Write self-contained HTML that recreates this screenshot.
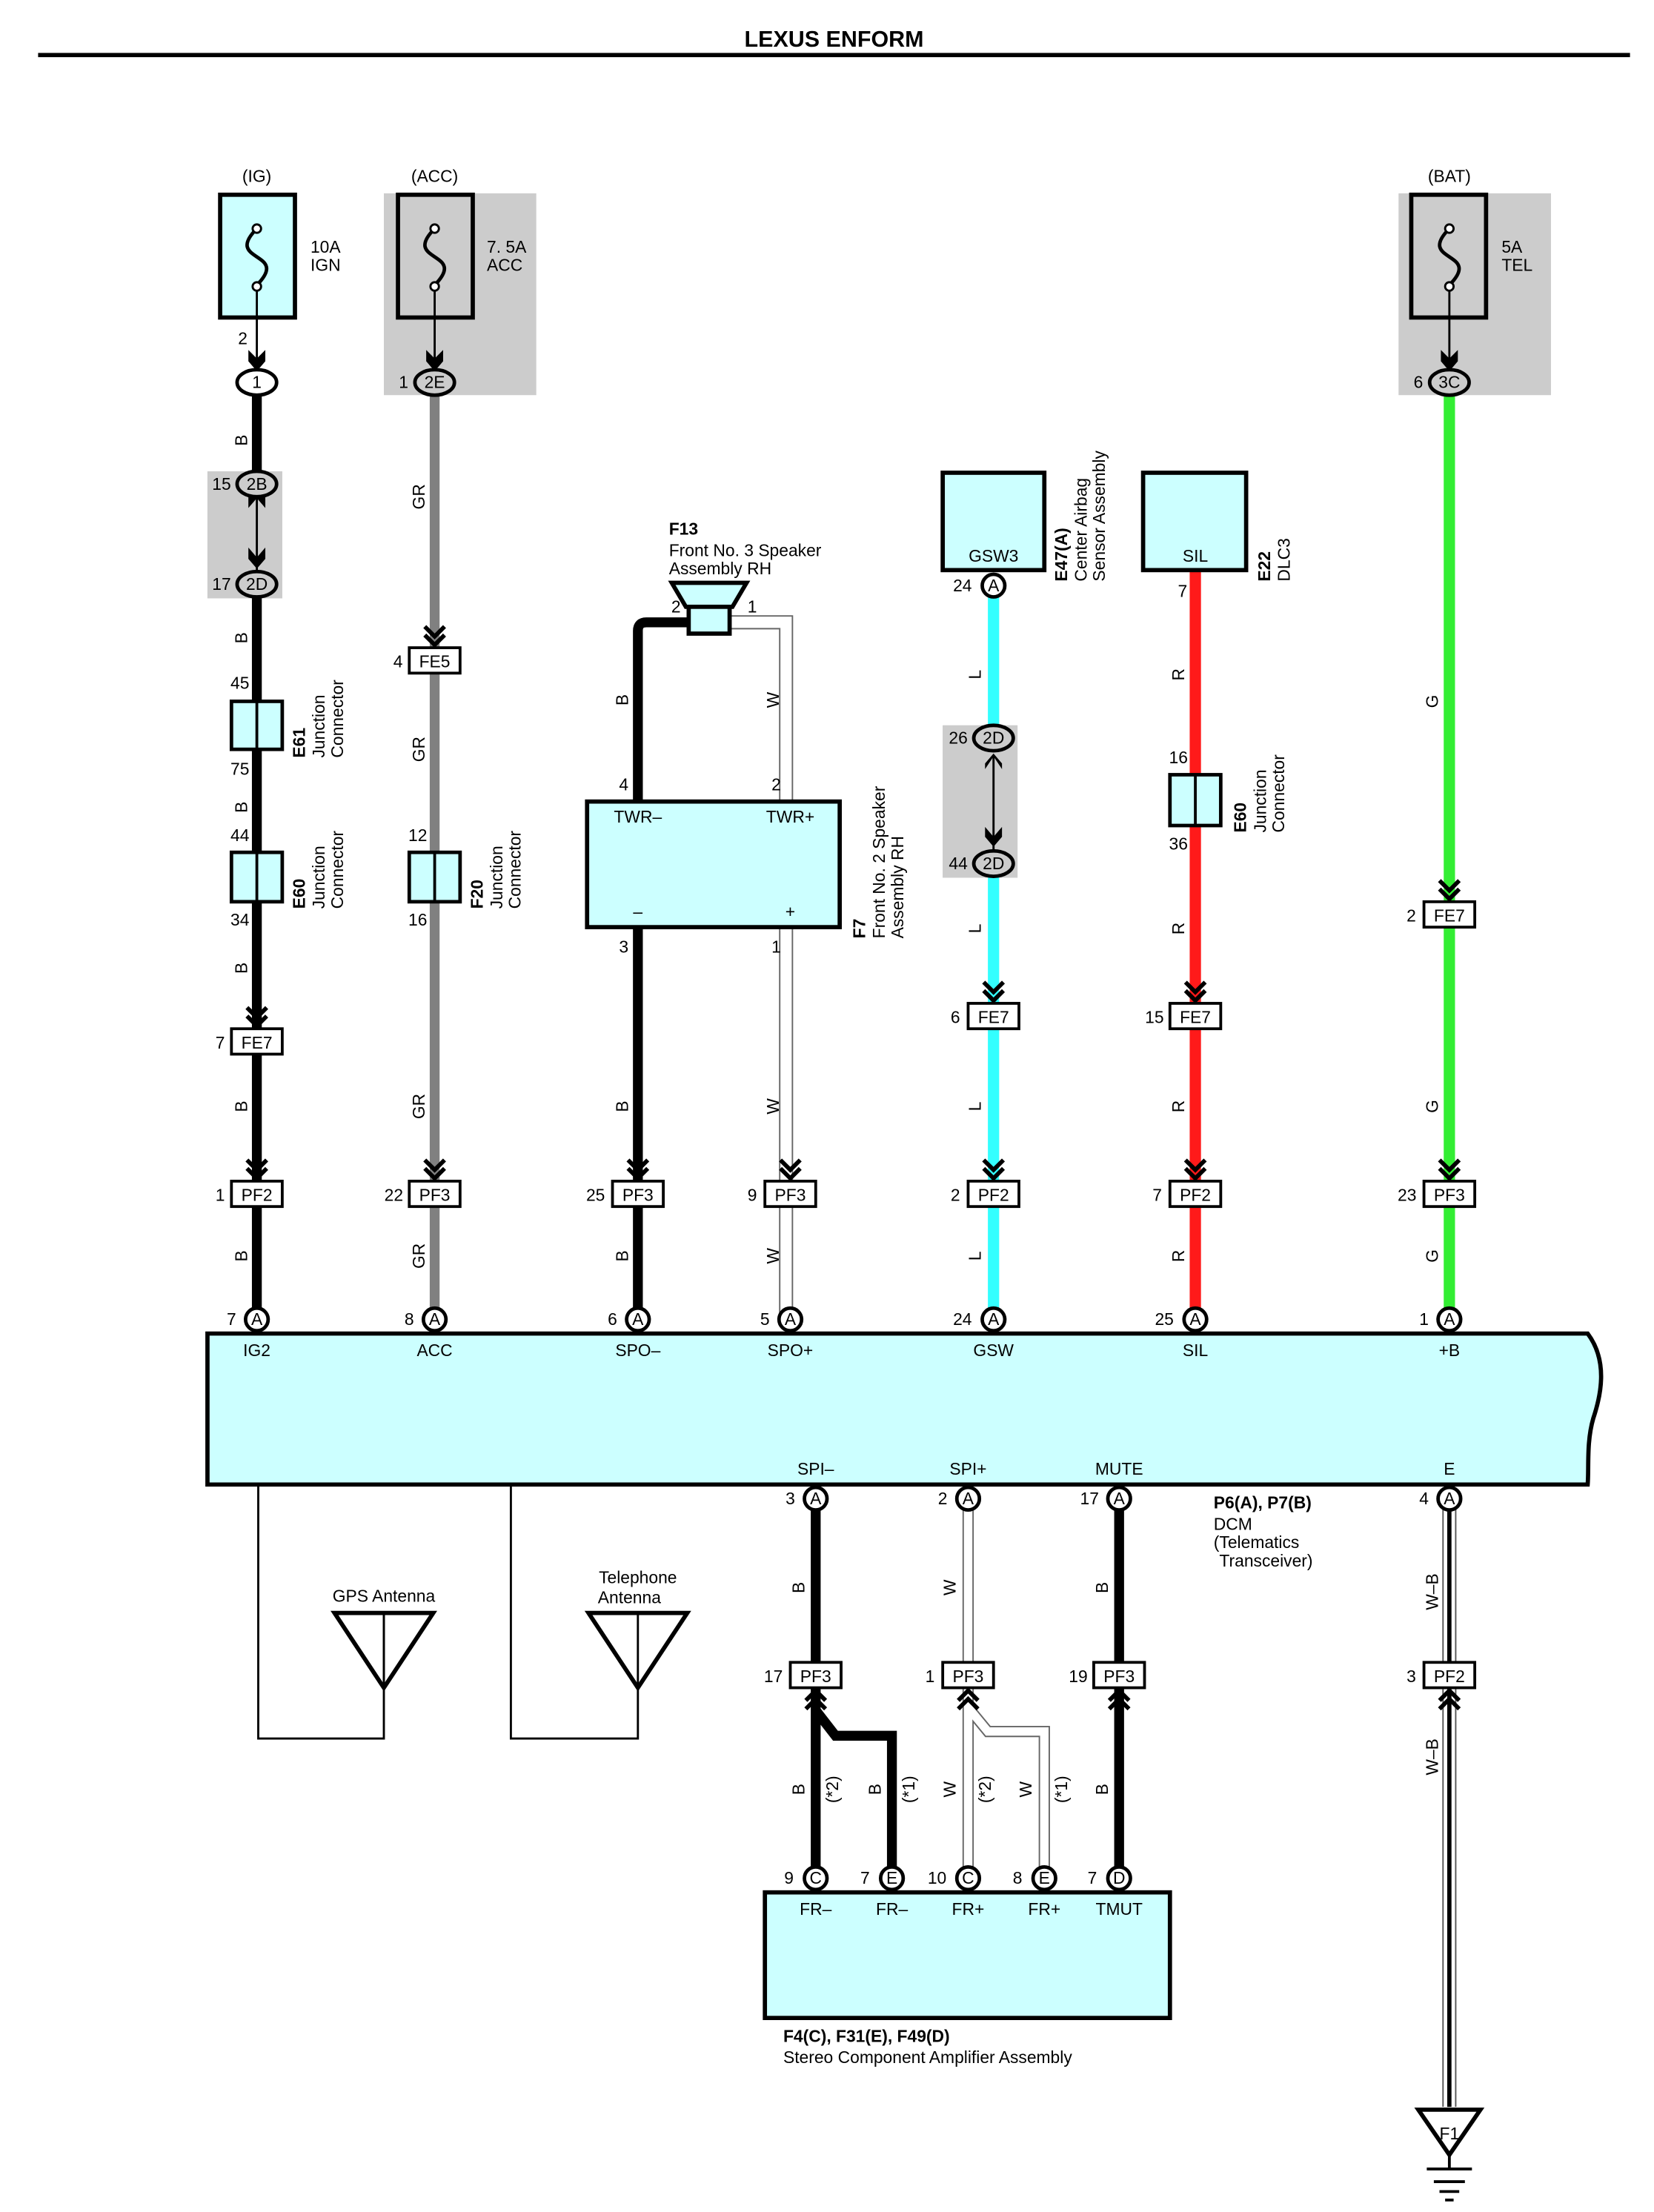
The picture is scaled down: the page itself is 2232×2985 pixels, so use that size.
<!DOCTYPE html>
<html><head><meta charset="utf-8"><style>
html,body{margin:0;padding:0;background:#fff}
svg{display:block}
text{font-family:"Liberation Sans",sans-serif;font-size:12px;fill:#000}
.b{font-weight:bold}
.c{text-anchor:middle}
.e{text-anchor:end}
</style></head><body>
<svg width="2232" height="2985" viewBox="0 0 1172 1567.5" preserveAspectRatio="none" xmlns="http://www.w3.org/2000/svg">
<defs>
<g id="chd"><polyline points="-7,-24 0,-17 7,-24" fill="none" stroke="#000" stroke-width="3"/><polyline points="-7,-18 0,-11 7,-18" fill="none" stroke="#000" stroke-width="3"/></g>
<g id="chu"><polyline points="-7,24 0,17 7,24" fill="none" stroke="#000" stroke-width="3"/><polyline points="-7,18 0,11 7,18" fill="none" stroke="#000" stroke-width="3"/></g>
<path id="fuse" d="M0,-20 C-12,-8 -6,-4 0,0 C6,4 12,8 0,20" fill="none" stroke="#000" stroke-width="2.5"/>
</defs>

<text x="591" y="33" class="b c" style="font-size:16px">LEXUS ENFORM</text>
<rect x="27" y="37.5" width="1128" height="3" fill="#000"/>

<rect x="272" y="137" width="108" height="143" fill="#ccc"/>
<rect x="991" y="137" width="108" height="143" fill="#ccc"/>
<rect x="147" y="334" width="53" height="90" fill="#ccc"/>
<rect x="668" y="514" width="53" height="108" fill="#ccc"/>

<text x="182" y="129" class="c">(IG)</text>
<rect x="156" y="138" width="53" height="87" fill="#ccffff" stroke="#000" stroke-width="3"/>
<use href="#fuse" x="182" y="182"/><circle cx="182" cy="162" r="3" fill="#fff" stroke="#000" stroke-width="1.5"/><circle cx="182" cy="203" r="3" fill="#fff" stroke="#000" stroke-width="1.5"/>
<text x="220" y="179">10A</text><text x="220" y="192">IGN</text>
<line x1="182" y1="206" x2="182" y2="258" stroke="#000" stroke-width="1.5"/>
<polygon points="176,248 182,254 188,248 188,256 182,263 176,256" fill="#000"/>
<text x="172" y="244" class="c">2</text>
<ellipse cx="182" cy="271" rx="14" ry="9" fill="#fff" stroke="#000" stroke-width="2.5"/><text x="182" y="275" class="c">1</text>

<text x="308" y="129" class="c">(ACC)</text>
<rect x="282" y="138" width="53" height="87" fill="#ccc" stroke="#000" stroke-width="3"/>
<use href="#fuse" x="308" y="182"/><circle cx="308" cy="162" r="3" fill="#fff" stroke="#000" stroke-width="1.5"/><circle cx="308" cy="203" r="3" fill="#fff" stroke="#000" stroke-width="1.5"/>
<text x="345" y="179">7. 5A</text><text x="345" y="192">ACC</text>
<line x1="308" y1="206" x2="308" y2="258" stroke="#000" stroke-width="1.5"/>
<polygon points="302,248 308,254 314,248 314,256 308,263 302,256" fill="#000"/>

<text x="1027" y="129" class="c">(BAT)</text>
<rect x="1000" y="138" width="53" height="87" fill="#ccc" stroke="#000" stroke-width="3"/>
<use href="#fuse" x="1027" y="182"/><circle cx="1027" cy="162" r="3" fill="#fff" stroke="#000" stroke-width="1.5"/><circle cx="1027" cy="203" r="3" fill="#fff" stroke="#000" stroke-width="1.5"/>
<text x="1064" y="179">5A</text><text x="1064" y="192">TEL</text>
<line x1="1027" y1="206" x2="1027" y2="258" stroke="#000" stroke-width="1.5"/>
<polygon points="1021,248 1027,254 1033,248 1033,256 1027,263 1021,256" fill="#000"/>

<line x1="182" y1="280" x2="182" y2="935" stroke="#000" stroke-width="7"/>
<line x1="308" y1="280" x2="308" y2="935" stroke="#808080" stroke-width="7"/>
<path d="M452,935 V447 Q452,441 458,441 H490" fill="none" stroke="#000" stroke-width="7"/>
<path d="M517,441 H557 V935" fill="none" stroke="#666" stroke-width="10"/>
<path d="M517,441 H557 V935" fill="none" stroke="#fff" stroke-width="8"/>
<line x1="704" y1="420" x2="704" y2="935" stroke="#33ffff" stroke-width="8"/>
<line x1="847" y1="404" x2="847" y2="935" stroke="#ff1a1a" stroke-width="8"/>
<line x1="1027" y1="280" x2="1027" y2="935" stroke="#33ee33" stroke-width="8"/>

<rect x="147" y="334" width="53" height="90" fill="#ccc"/>
<line x1="182" y1="352" x2="182" y2="405" stroke="#000" stroke-width="1.5"/>
<polygon points="176,352 182,345 188,352 188,360 182,353 176,360" fill="#000"/>
<polygon points="176,396 182,403 188,396 188,388 182,395 176,388" fill="#000"/>
<ellipse cx="182" cy="343" rx="14" ry="9" fill="#ccc" stroke="#000" stroke-width="2.5"/><text x="182" y="347" class="c">2B</text><text x="157" y="347" class="c">15</text>
<ellipse cx="182" cy="414" rx="14" ry="9" fill="#ccc" stroke="#000" stroke-width="2.5"/><text x="182" y="418" class="c">2D</text><text x="157" y="418" class="c">17</text>
<ellipse cx="308" cy="271" rx="14" ry="9" fill="#ccc" stroke="#000" stroke-width="2.5"/><text x="308" y="275" class="c">2E</text><text x="286" y="275" class="c">1</text>
<ellipse cx="1027" cy="271" rx="14" ry="9" fill="#ccc" stroke="#000" stroke-width="2.5"/><text x="1027" y="275" class="c">3C</text><text x="1005" y="275" class="c">6</text>

<rect x="164" y="497" width="36" height="34" fill="#ccffff" stroke="#000" stroke-width="2.5"/><line x1="182" y1="497" x2="182" y2="531" stroke="#000" stroke-width="2"/>
<text x="170" y="488" class="c">45</text><text x="170" y="549" class="c">75</text>
<rect x="164" y="604" width="36" height="35" fill="#ccffff" stroke="#000" stroke-width="2.5"/><line x1="182" y1="604" x2="182" y2="639" stroke="#000" stroke-width="2"/>
<text x="170" y="596" class="c">44</text><text x="170" y="656" class="c">34</text>
<g transform="translate(216,537) rotate(-90)"><text class="b">E61</text></g>
<g transform="translate(230,537) rotate(-90)"><text>Junction</text></g>
<g transform="translate(243,537) rotate(-90)"><text>Connector</text></g>
<g transform="translate(216,644) rotate(-90)"><text class="b">E60</text></g>
<g transform="translate(230,644) rotate(-90)"><text>Junction</text></g>
<g transform="translate(243,644) rotate(-90)"><text>Connector</text></g>

<rect x="290" y="604" width="36" height="35" fill="#ccffff" stroke="#000" stroke-width="2.5"/><line x1="308" y1="604" x2="308" y2="639" stroke="#000" stroke-width="2"/>
<text x="296" y="596" class="c">12</text><text x="296" y="656" class="c">16</text>
<g transform="translate(342,644) rotate(-90)"><text class="b">F20</text></g>
<g transform="translate(356,644) rotate(-90)"><text>Junction</text></g>
<g transform="translate(369,644) rotate(-90)"><text>Connector</text></g>

<text x="474" y="379" class="b">F13</text>
<text x="474" y="394">Front No. 3 Speaker</text>
<text x="474" y="407">Assembly RH</text>
<polygon points="476,413 529,413 519,430 486,430" fill="#ccffff" stroke="#000" stroke-width="3"/>
<rect x="488" y="430" width="29" height="19" fill="#ccffff" stroke="#000" stroke-width="3"/>
<text x="479" y="434" class="c">2</text><text x="533" y="434" class="c">1</text>
<rect x="416" y="568" width="179" height="89" fill="#ccffff" stroke="#000" stroke-width="3"/>
<text x="452" y="583" class="c">TWR–</text><text x="560" y="583" class="c">TWR+</text>
<text x="452" y="650" class="c">–</text><text x="560" y="650" class="c">+</text>
<text x="442" y="560" class="c">4</text><text x="550" y="560" class="c">2</text>
<text x="442" y="675" class="c">3</text><text x="550" y="675" class="c">1</text>
<g transform="translate(613,665) rotate(-90)"><text class="b">F7</text></g>
<g transform="translate(627,665) rotate(-90)"><text>Front No. 2 Speaker</text></g>
<g transform="translate(640,665) rotate(-90)"><text>Assembly RH</text></g>

<rect x="668" y="335" width="72" height="69" fill="#ccffff" stroke="#000" stroke-width="3"/><text x="704" y="398" class="c">GSW3</text>
<circle cx="704" cy="415" r="8" fill="#fff" stroke="#000" stroke-width="2.5"/><text x="704" y="419" class="c">A</text><text x="682" y="419" class="c">24</text>
<g transform="translate(756,412) rotate(-90)"><text class="b">E47(A)</text></g>
<g transform="translate(770,412) rotate(-90)"><text>Center Airbag</text></g>
<g transform="translate(783,412) rotate(-90)"><text>Sensor Assembly</text></g>
<rect x="810" y="335" width="73" height="69" fill="#ccffff" stroke="#000" stroke-width="3"/><text x="847" y="398" class="c">SIL</text>
<text x="838" y="423" class="c">7</text>
<g transform="translate(900,412) rotate(-90)"><text class="b">E22</text></g>
<g transform="translate(914,412) rotate(-90)"><text>DLC3</text></g>

<rect x="668" y="514" width="53" height="108" fill="#ccc"/>
<line x1="704" y1="535" x2="704" y2="602" stroke="#000" stroke-width="1.5"/>
<polygon points="698,545 704,536 710,545 710,541 704,534 698,541" fill="#000"/>
<polygon points="698,593 704,600 710,593 710,586 704,593 698,586" fill="#000"/>
<ellipse cx="704" cy="523" rx="14" ry="9" fill="#ccc" stroke="#000" stroke-width="2.5"/><text x="704" y="527" class="c">2D</text><text x="679" y="527" class="c">26</text>
<ellipse cx="704" cy="612" rx="14" ry="9" fill="#ccc" stroke="#000" stroke-width="2.5"/><text x="704" y="616" class="c">2D</text><text x="679" y="616" class="c">44</text>

<rect x="829" y="549" width="36" height="36" fill="#ccffff" stroke="#000" stroke-width="2.5"/><line x1="847" y1="549" x2="847" y2="585" stroke="#000" stroke-width="2"/>
<text x="835" y="541" class="c">16</text><text x="835" y="602" class="c">36</text>
<g transform="translate(883,590) rotate(-90)"><text class="b">E60</text></g>
<g transform="translate(897,590) rotate(-90)"><text>Junction</text></g>
<g transform="translate(910,590) rotate(-90)"><text>Connector</text></g>

<g>
<use href="#chd" x="308" y="468"/><rect x="290" y="459" width="36" height="18" fill="#fff" stroke="#000" stroke-width="2"/><text x="308" y="473" class="c">FE5</text><text x="282" y="473" class="c">4</text>
<use href="#chd" x="182" y="738"/><rect x="164" y="729" width="36" height="18" fill="#fff" stroke="#000" stroke-width="2"/><text x="182" y="743" class="c">FE7</text><text x="156" y="743" class="c">7</text>
<use href="#chd" x="704" y="720"/><rect x="686" y="711" width="36" height="18" fill="#fff" stroke="#000" stroke-width="2"/><text x="704" y="725" class="c">FE7</text><text x="677" y="725" class="c">6</text>
<use href="#chd" x="847" y="720"/><rect x="829" y="711" width="36" height="18" fill="#fff" stroke="#000" stroke-width="2"/><text x="847" y="725" class="c">FE7</text><text x="818" y="725" class="c">15</text>
<use href="#chd" x="1027" y="648"/><rect x="1009" y="639" width="36" height="18" fill="#fff" stroke="#000" stroke-width="2"/><text x="1027" y="653" class="c">FE7</text><text x="1000" y="653" class="c">2</text>

<use href="#chd" x="182" y="846"/><rect x="164" y="837" width="36" height="18" fill="#fff" stroke="#000" stroke-width="2"/><text x="182" y="851" class="c">PF2</text><text x="156" y="851" class="c">1</text>
<use href="#chd" x="308" y="846"/><rect x="290" y="837" width="36" height="18" fill="#fff" stroke="#000" stroke-width="2"/><text x="308" y="851" class="c">PF3</text><text x="279" y="851" class="c">22</text>
<use href="#chd" x="452" y="846"/><rect x="434" y="837" width="36" height="18" fill="#fff" stroke="#000" stroke-width="2"/><text x="452" y="851" class="c">PF3</text><text x="422" y="851" class="c">25</text>
<use href="#chd" x="560" y="846"/><rect x="542" y="837" width="36" height="18" fill="#fff" stroke="#000" stroke-width="2"/><text x="560" y="851" class="c">PF3</text><text x="533" y="851" class="c">9</text>
<use href="#chd" x="704" y="846"/><rect x="686" y="837" width="36" height="18" fill="#fff" stroke="#000" stroke-width="2"/><text x="704" y="851" class="c">PF2</text><text x="677" y="851" class="c">2</text>
<use href="#chd" x="847" y="846"/><rect x="829" y="837" width="36" height="18" fill="#fff" stroke="#000" stroke-width="2"/><text x="847" y="851" class="c">PF2</text><text x="820" y="851" class="c">7</text>
<use href="#chd" x="1027" y="846"/><rect x="1009" y="837" width="36" height="18" fill="#fff" stroke="#000" stroke-width="2"/><text x="1027" y="851" class="c">PF3</text><text x="997" y="851" class="c">23</text>
</g>

<g>
<g transform="translate(175,312) rotate(-90)"><text class="c">B</text></g>
<g transform="translate(175,452) rotate(-90)"><text class="c">B</text></g>
<g transform="translate(175,572) rotate(-90)"><text class="c">B</text></g>
<g transform="translate(175,686) rotate(-90)"><text class="c">B</text></g>
<g transform="translate(175,784) rotate(-90)"><text class="c">B</text></g>
<g transform="translate(175,890) rotate(-90)"><text class="c">B</text></g>
<g transform="translate(301,352) rotate(-90)"><text class="c">GR</text></g>
<g transform="translate(301,531) rotate(-90)"><text class="c">GR</text></g>
<g transform="translate(301,784) rotate(-90)"><text class="c">GR</text></g>
<g transform="translate(301,890) rotate(-90)"><text class="c">GR</text></g>
<g transform="translate(445,496) rotate(-90)"><text class="c">B</text></g>
<g transform="translate(445,784) rotate(-90)"><text class="c">B</text></g>
<g transform="translate(445,890) rotate(-90)"><text class="c">B</text></g>
<g transform="translate(552,496) rotate(-90)"><text class="c">W</text></g>
<g transform="translate(552,784) rotate(-90)"><text class="c">W</text></g>
<g transform="translate(552,890) rotate(-90)"><text class="c">W</text></g>
<g transform="translate(695,478) rotate(-90)"><text class="c">L</text></g>
<g transform="translate(695,658) rotate(-90)"><text class="c">L</text></g>
<g transform="translate(695,784) rotate(-90)"><text class="c">L</text></g>
<g transform="translate(695,890) rotate(-90)"><text class="c">L</text></g>
<g transform="translate(839,478) rotate(-90)"><text class="c">R</text></g>
<g transform="translate(839,658) rotate(-90)"><text class="c">R</text></g>
<g transform="translate(839,784) rotate(-90)"><text class="c">R</text></g>
<g transform="translate(839,890) rotate(-90)"><text class="c">R</text></g>
<g transform="translate(1019,497) rotate(-90)"><text class="c">G</text></g>
<g transform="translate(1019,784) rotate(-90)"><text class="c">G</text></g>
<g transform="translate(1019,890) rotate(-90)"><text class="c">G</text></g>
</g>

<path d="M147,945 H1125 C1140,965 1134,990 1129,1005 C1124,1022 1126,1040 1125,1052 H147 Z" fill="#ccffff" stroke="#000" stroke-width="3"/>
<g>
<circle cx="182" cy="935" r="8" fill="#fff" stroke="#000" stroke-width="2.5"/><text x="182" y="939" class="c">A</text><text x="164" y="939" class="c">7</text>
<circle cx="308" cy="935" r="8" fill="#fff" stroke="#000" stroke-width="2.5"/><text x="308" y="939" class="c">A</text><text x="290" y="939" class="c">8</text>
<circle cx="452" cy="935" r="8" fill="#fff" stroke="#000" stroke-width="2.5"/><text x="452" y="939" class="c">A</text><text x="434" y="939" class="c">6</text>
<circle cx="560" cy="935" r="8" fill="#fff" stroke="#000" stroke-width="2.5"/><text x="560" y="939" class="c">A</text><text x="542" y="939" class="c">5</text>
<circle cx="704" cy="935" r="8" fill="#fff" stroke="#000" stroke-width="2.5"/><text x="704" y="939" class="c">A</text><text x="682" y="939" class="c">24</text>
<circle cx="847" cy="935" r="8" fill="#fff" stroke="#000" stroke-width="2.5"/><text x="847" y="939" class="c">A</text><text x="825" y="939" class="c">25</text>
<circle cx="1027" cy="935" r="8" fill="#fff" stroke="#000" stroke-width="2.5"/><text x="1027" y="939" class="c">A</text><text x="1009" y="939" class="c">1</text>
</g>
<text x="182" y="961" class="c">IG2</text><text x="308" y="961" class="c">ACC</text><text x="452" y="961" class="c">SPO–</text><text x="560" y="961" class="c">SPO+</text><text x="704" y="961" class="c">GSW</text><text x="847" y="961" class="c">SIL</text><text x="1027" y="961" class="c">+B</text>
<text x="578" y="1045" class="c">SPI–</text><text x="686" y="1045" class="c">SPI+</text><text x="793" y="1045" class="c">MUTE</text><text x="1027" y="1045" class="c">E</text>
<text x="860" y="1069" class="b">P6(A), P7(B)</text>
<text x="860" y="1084">DCM</text><text x="860" y="1097">(Telematics</text><text x="864" y="1110">Transceiver)</text>

<polyline points="183,1052 183,1232 272,1232 272,1143" fill="none" stroke="#000" stroke-width="1.5"/>
<polygon points="237,1143 307,1143 272,1196" fill="none" stroke="#000" stroke-width="3"/>
<line x1="272" y1="1143" x2="272" y2="1196" stroke="#000" stroke-width="1.5"/>
<text x="272" y="1135" class="c">GPS Antenna</text>
<polyline points="362,1052 362,1232 452,1232 452,1143" fill="none" stroke="#000" stroke-width="1.5"/>
<polygon points="417,1143 487,1143 452,1196" fill="none" stroke="#000" stroke-width="3"/>
<text x="452" y="1122" class="c">Telephone</text><text x="446" y="1136" class="c">Antenna</text>

<line x1="578" y1="1062" x2="578" y2="1331" stroke="#000" stroke-width="7"/>
<path d="M578,1212 L592,1230 H632 V1331" fill="none" stroke="#000" stroke-width="7"/>
<path d="M686,1062 V1331 M686,1210 L700,1227 H740 V1331" fill="none" stroke="#666" stroke-width="8"/>
<path d="M686,1062 V1331 M686,1210 L700,1227 H740 V1331" fill="none" stroke="#fff" stroke-width="6"/>
<line x1="793" y1="1062" x2="793" y2="1331" stroke="#000" stroke-width="7"/>
<line x1="1027" y1="1062" x2="1027" y2="1493" stroke="#555" stroke-width="10"/>
<line x1="1027" y1="1062" x2="1027" y2="1493" stroke="#fff" stroke-width="8"/>
<line x1="1027" y1="1062" x2="1027" y2="1493" stroke="#000" stroke-width="3"/>

<g>
<circle cx="578" cy="1062" r="8" fill="#fff" stroke="#000" stroke-width="2.5"/><text x="578" y="1066" class="c">A</text><text x="560" y="1066" class="c">3</text>
<circle cx="686" cy="1062" r="8" fill="#fff" stroke="#000" stroke-width="2.5"/><text x="686" y="1066" class="c">A</text><text x="668" y="1066" class="c">2</text>
<circle cx="793" cy="1062" r="8" fill="#fff" stroke="#000" stroke-width="2.5"/><text x="793" y="1066" class="c">A</text><text x="772" y="1066" class="c">17</text>
<circle cx="1027" cy="1062" r="8" fill="#fff" stroke="#000" stroke-width="2.5"/><text x="1027" y="1066" class="c">A</text><text x="1009" y="1066" class="c">4</text>
</g>
<g>
<use href="#chu" x="578" y="1187"/><rect x="560" y="1178" width="36" height="18" fill="#fff" stroke="#000" stroke-width="2"/><text x="578" y="1192" class="c">PF3</text><text x="548" y="1192" class="c">17</text>
<use href="#chu" x="686" y="1187"/><rect x="668" y="1178" width="36" height="18" fill="#fff" stroke="#000" stroke-width="2"/><text x="686" y="1192" class="c">PF3</text><text x="659" y="1192" class="c">1</text>
<use href="#chu" x="793" y="1187"/><rect x="775" y="1178" width="36" height="18" fill="#fff" stroke="#000" stroke-width="2"/><text x="793" y="1192" class="c">PF3</text><text x="764" y="1192" class="c">19</text>
<use href="#chu" x="1027" y="1187"/><rect x="1009" y="1178" width="36" height="18" fill="#fff" stroke="#000" stroke-width="2"/><text x="1027" y="1192" class="c">PF2</text><text x="1000" y="1192" class="c">3</text>
</g>
<g>
<g transform="translate(570,1125) rotate(-90)"><text class="c">B</text></g>
<g transform="translate(677,1125) rotate(-90)"><text class="c">W</text></g>
<g transform="translate(785,1125) rotate(-90)"><text class="c">B</text></g>
<g transform="translate(1019,1128) rotate(-90)"><text class="c">W–B</text></g>
<g transform="translate(1019,1245) rotate(-90)"><text class="c">W–B</text></g>
<g transform="translate(570,1268) rotate(-90)"><text class="c">B</text></g>
<g transform="translate(594,1268) rotate(-90)"><text class="c">(*2)</text></g>
<g transform="translate(624,1268) rotate(-90)"><text class="c">B</text></g>
<g transform="translate(648,1268) rotate(-90)"><text class="c">(*1)</text></g>
<g transform="translate(677,1268) rotate(-90)"><text class="c">W</text></g>
<g transform="translate(702,1268) rotate(-90)"><text class="c">(*2)</text></g>
<g transform="translate(731,1268) rotate(-90)"><text class="c">W</text></g>
<g transform="translate(756,1268) rotate(-90)"><text class="c">(*1)</text></g>
<g transform="translate(785,1268) rotate(-90)"><text class="c">B</text></g>
</g>

<rect x="542" y="1341" width="287" height="89" fill="#ccffff" stroke="#000" stroke-width="3"/>
<g>
<circle cx="578" cy="1331" r="8" fill="#fff" stroke="#000" stroke-width="2.5"/><text x="578" y="1335" class="c">C</text><text x="559" y="1335" class="c">9</text>
<circle cx="632" cy="1331" r="8" fill="#fff" stroke="#000" stroke-width="2.5"/><text x="632" y="1335" class="c">E</text><text x="613" y="1335" class="c">7</text>
<circle cx="686" cy="1331" r="8" fill="#fff" stroke="#000" stroke-width="2.5"/><text x="686" y="1335" class="c">C</text><text x="664" y="1335" class="c">10</text>
<circle cx="740" cy="1331" r="8" fill="#fff" stroke="#000" stroke-width="2.5"/><text x="740" y="1335" class="c">E</text><text x="721" y="1335" class="c">8</text>
<circle cx="793" cy="1331" r="8" fill="#fff" stroke="#000" stroke-width="2.5"/><text x="793" y="1335" class="c">D</text><text x="774" y="1335" class="c">7</text>
</g>
<text x="578" y="1357" class="c">FR–</text><text x="632" y="1357" class="c">FR–</text><text x="686" y="1357" class="c">FR+</text><text x="740" y="1357" class="c">FR+</text><text x="793" y="1357" class="c">TMUT</text>
<text x="555" y="1447" class="b">F4(C), F31(E), F49(D)</text>
<text x="555" y="1462">Stereo Component Amplifier Assembly</text>

<polygon points="1005,1495 1049,1495 1027,1527" fill="#fff" stroke="#000" stroke-width="3"/>
<text x="1027" y="1516" class="c">F1</text>
<line x1="1027" y1="1527" x2="1027" y2="1537" stroke="#000" stroke-width="2"/>
<line x1="1011" y1="1537" x2="1043" y2="1537" stroke="#000" stroke-width="2"/>
<line x1="1016" y1="1546" x2="1038" y2="1546" stroke="#000" stroke-width="2"/>
<line x1="1020" y1="1553" x2="1034" y2="1553" stroke="#000" stroke-width="2"/>
<line x1="1024" y1="1559" x2="1030" y2="1559" stroke="#000" stroke-width="2"/>
</svg>
</body></html>
